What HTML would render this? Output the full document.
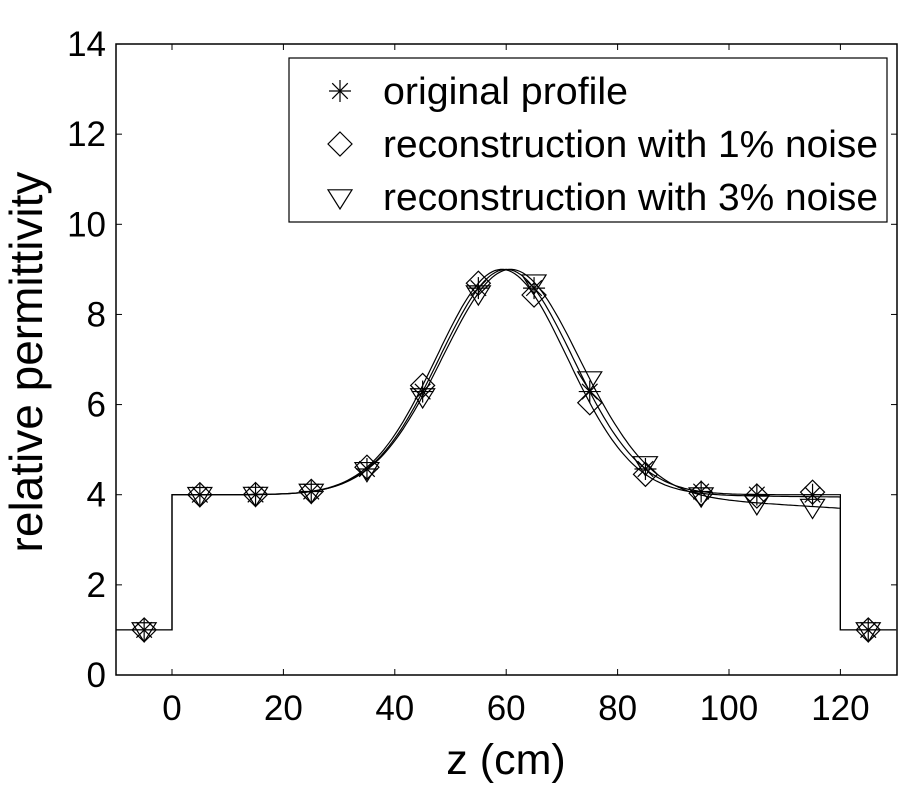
<!DOCTYPE html>
<html><head><meta charset="utf-8"><style>
html,body{margin:0;padding:0;background:#fff;}
svg{display:block;font-family:"Liberation Sans",Arial,sans-serif;}
</style></head><body>
<svg id="s" width="900" height="800" viewBox="0 0 900 800" xmlns="http://www.w3.org/2000/svg"></svg>
<script>
const s=document.getElementById('s');
const X=z=>172+(z)*5.57, Y=v=>675-v*45.07;
let h='<rect x="116" y="44" width="781" height="631" fill="none" stroke="#000" stroke-width="1.5"/>';
for(let z=0;z<=120;z+=20){const x=X(z);h+=`<line x1="${x}" y1="675" x2="${x}" y2="669" stroke="#000"/><line x1="${x}" y1="44" x2="${x}" y2="50" stroke="#000"/><text x="${x}" y="720" font-size="35" text-anchor="middle">${z}</text>`;}
for(let v=0;v<=14;v+=2){const y=Y(v);h+=`<line x1="116" y1="${y}" x2="122" y2="${y}" stroke="#000"/><line x1="897" y1="${y}" x2="891" y2="${y}" stroke="#000"/><text x="106" y="${y+12}" font-size="35" text-anchor="end">${v}</text>`;}
h+=`<text x="506" y="774" font-size="43" text-anchor="middle">z (cm)</text>`;
h+=`<text transform="translate(42,362) rotate(-90)" font-size="46" text-anchor="middle">relative permittivity</text>`;
function prof(z,sh,sg,tail){if(z<0||z>120)return 1;let b=4+5*Math.exp(-Math.pow(z-60-sh,2)/(2*sg*sg));if(tail&&z>80)b-=tail*(z-80)/40;return b;}
function path(sh,sg,tail){let d=`M${X(-10)},${Y(1)} L${X(0)},${Y(1)} `;for(let z=0;z<=120;z+=0.5)d+=`L${X(z).toFixed(1)},${Y(prof(z,sh,sg,tail)).toFixed(1)} `;d+=`L${X(120)},${Y(1)} L${X(130)},${Y(1)}`;return `<path d="${d}" fill="none" stroke="#000" stroke-width="1.2"/>`;}
h+=path(0,12,0)+path(-0.8,11.8,0.05)+path(0.8,12.3,0.3);
function star(x,y){let r=11,o='';for(let a=0;a<4;a++){let t=a*Math.PI/4;o+=`<line x1="${x-r*Math.cos(t)}" y1="${y-r*Math.sin(t)}" x2="${x+r*Math.cos(t)}" y2="${y+r*Math.sin(t)}" stroke="#000" stroke-width="1.2"/>`;}return o;}
function dia(x,y){let r=12;return `<polygon points="${x},${y-r} ${x+r},${y} ${x},${y+r} ${x-r},${y}" fill="none" stroke="#000" stroke-width="1.2"/>`;}
function tri(x,y){let r=12;return `<polygon points="${x-r},${y-r*0.6} ${x+r},${y-r*0.6} ${x},${y+r}" fill="none" stroke="#000" stroke-width="1.2"/>`;}
for(let z=-5;z<=125;z+=10){h+=star(X(z),Y(prof(z,0,12,0)));h+=dia(X(z),Y(prof(z,-0.8,11.8,0.05)+(z==115?0.1:0)));h+=tri(X(z),Y(prof(z,0.8,12.3,0.3)));}
h+='<rect x="289" y="58" width="598" height="164" fill="#fff" stroke="#000" stroke-width="1.2"/>';
const L=[['star','original profile'],['dia','reconstruction with 1% noise'],['tri','reconstruction with 3% noise']];
L.forEach((l,i)=>{const y=91+i*53;h+=(l[0]=='star'?star(340,y):l[0]=='dia'?dia(340,y):tri(340,y));h+=`<text x="383" y="${y+13}" font-size="38" textLength="${i==0?245:495}" lengthAdjust="spacingAndGlyphs">${l[1]}</text>`;});
s.innerHTML=h;
</script>
</body></html>
